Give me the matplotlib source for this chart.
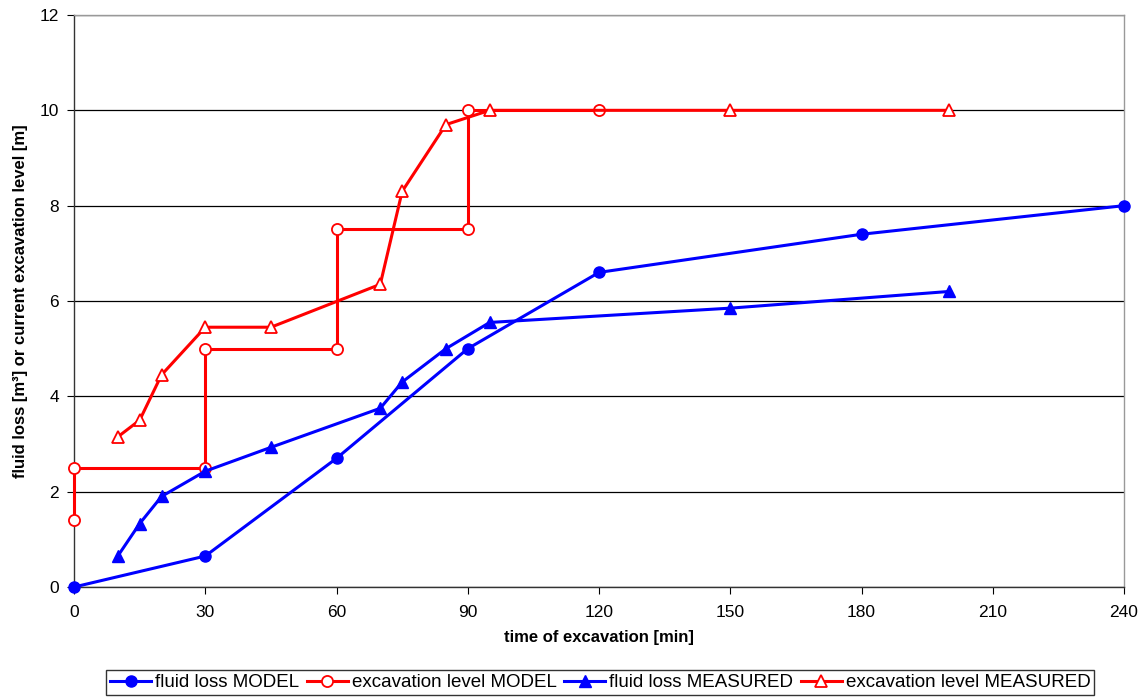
import matplotlib
matplotlib.use('Agg')
import matplotlib.pyplot as plt

plt.rcParams['font.family'] = ['Liberation Sans', 'DejaVu Sans']

# fluid loss, model
t_loss_model = [0, 30, 60, 90, 120, 180, 240]
loss_model = [0.0, 0.65, 2.7, 5.0, 6.6, 7.4, 8.0]

# excavation level, model (stepwise)
t_exc_model = [0, 0, 30, 30, 60, 60, 90, 90, 120]
exc_model = [1.4, 2.5, 2.5, 5.0, 5.0, 7.5, 7.5, 10.0, 10.0]

# fluid loss, measured
t_loss_meas = [10, 15, 20, 30, 45, 70, 75, 85, 95, 150, 200]
loss_meas = [0.65, 1.33, 1.9, 2.43, 2.93, 3.75, 4.3, 5.0, 5.55, 5.85, 6.2]

# excavation level, measured
t_exc_meas = [10, 15, 20, 30, 45, 70, 75, 85, 95, 150, 200]
exc_meas = [3.15, 3.5, 4.45, 5.45, 5.45, 6.35, 8.3, 9.7, 10.0, 10.0, 10.0]

xticks = [0, 30, 60, 90, 120, 150, 180, 210, 240]
yticks = [0, 2, 4, 6, 8, 10, 12]

fig = plt.figure(figsize=(11.41, 7.0), dpi=100)
ax = fig.add_axes([0.0649, 0.1614, 0.9202, 0.8172])

lw = 2.2
ax.plot(t_loss_model, loss_model, color='#0000ff', lw=lw, marker='o', ms=8,
        label='fluid loss MODEL', zorder=3, clip_on=False)
ax.plot(t_exc_model, exc_model, color='#ff0000', lw=lw, marker='o', ms=8,
        mfc='white', mec='#ff0000', mew=1.3, label='excavation level MODEL',
        zorder=3, clip_on=False)
ax.plot(t_loss_meas, loss_meas, color='#0000ff', lw=lw, marker='^', ms=8.5,
        label='fluid loss MEASURED', zorder=4, clip_on=False)
ax.plot(t_exc_meas, exc_meas, color='#ff0000', lw=lw, marker='^', ms=8.5,
        mfc='white', mec='#ff0000', mew=1.3, label='excavation level MEASURED',
        zorder=4, clip_on=False)

ax.set_xlim(0, 240)
ax.set_ylim(0, 12)
ax.set_xticks(xticks)
ax.set_yticks(yticks)
ax.tick_params(labelsize=12.5, direction='out', length=5, colors='black')
ax.tick_params(axis='x', pad=8)
ax.tick_params(axis='y', pad=6)
ax.yaxis.grid(True, color='black', lw=0.9)
ax.set_axisbelow(True)

for s in ['top', 'right']:
    ax.spines[s].set_color('#999999')
    ax.spines[s].set_linewidth(1.0)
for s in ['left', 'bottom']:
    ax.spines[s].set_color('#333333')
    ax.spines[s].set_linewidth(1.0)

ax.set_xlabel('time of excavation [min]', fontsize=12, fontweight='bold', labelpad=7)
ax.set_ylabel('fluid loss [m³] or current excavation level [m]', fontsize=12,
              fontweight='bold', labelpad=8)

leg = fig.legend(loc='center', bbox_to_anchor=(0.526, 0.025), ncol=4, fontsize=13.5,
                 frameon=True, fancybox=False, edgecolor='black', borderpad=0.2,
                 columnspacing=0.4, handletextpad=0.2, handlelength=2.2,
                 borderaxespad=0)
leg.get_frame().set_linewidth(1.0)

fig.savefig('out.png', dpi=100)
